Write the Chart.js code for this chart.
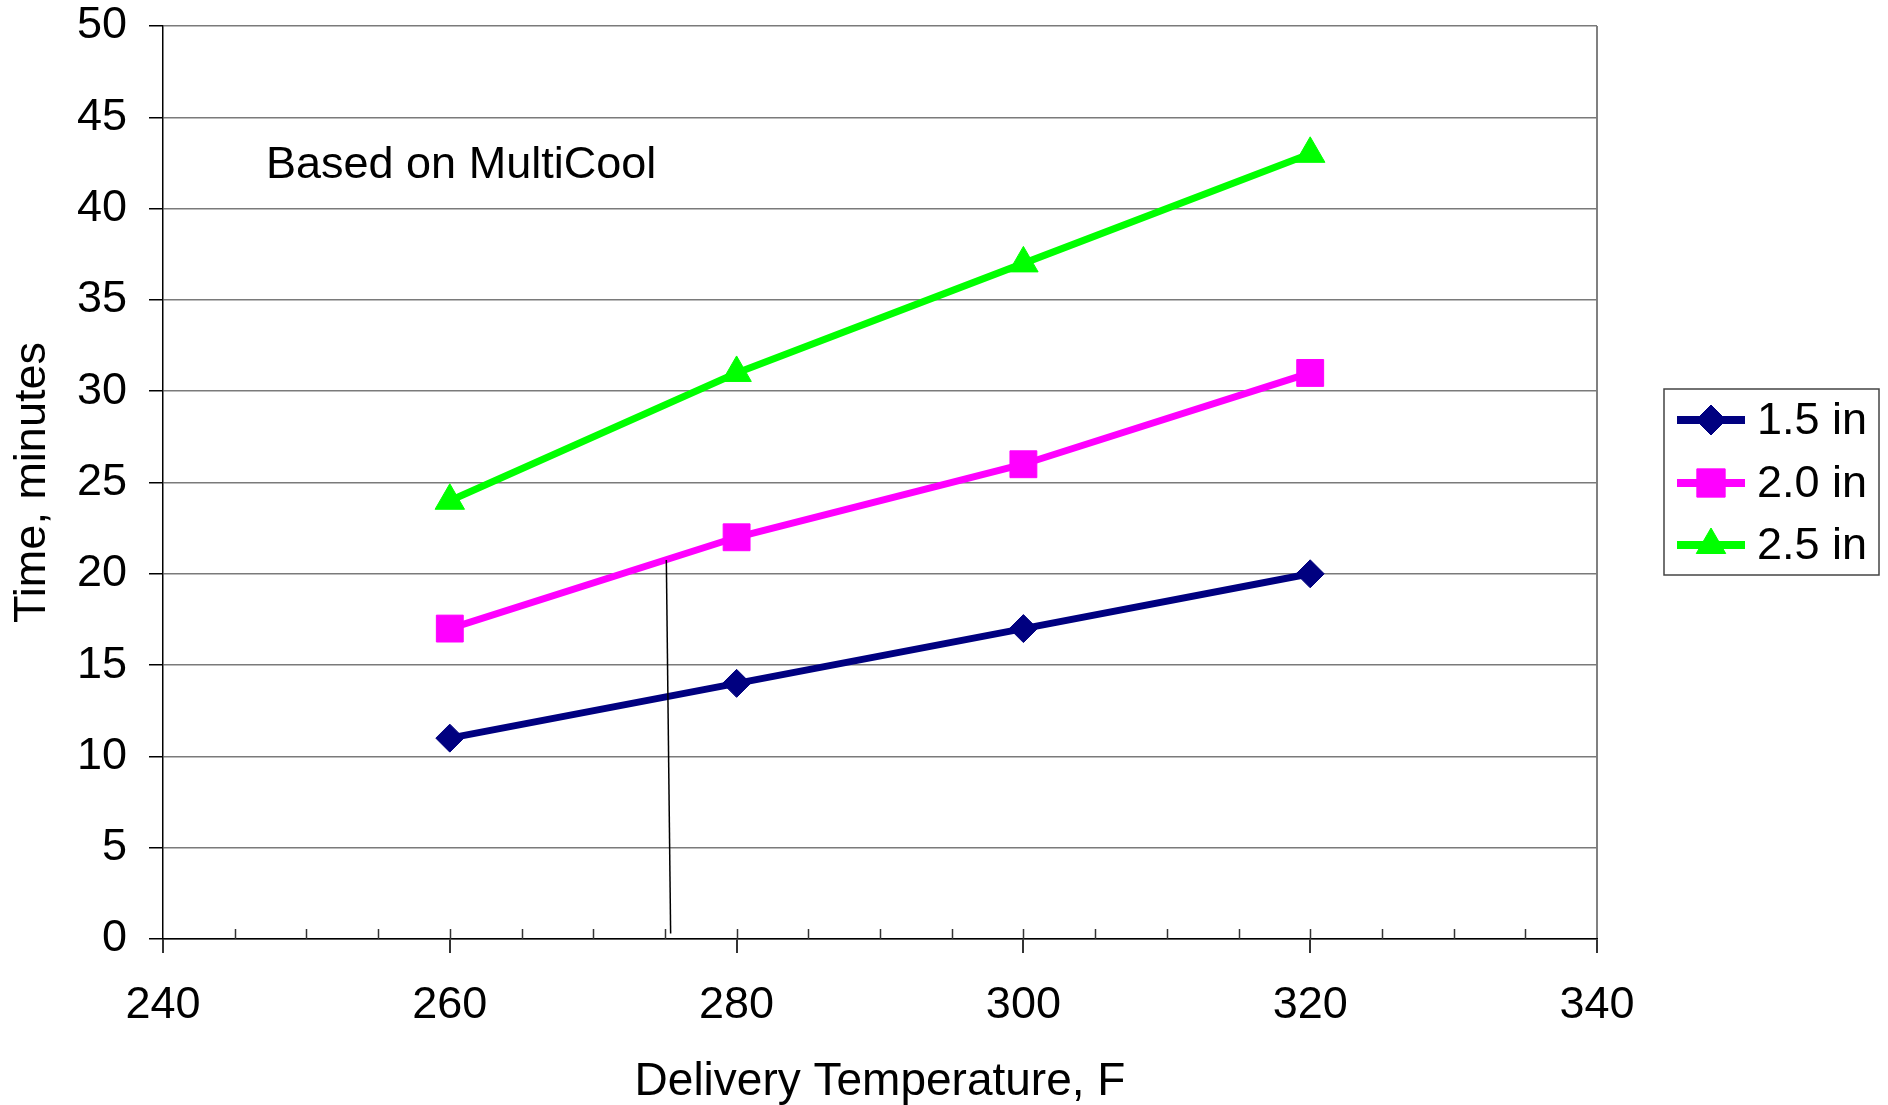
<!DOCTYPE html>
<html>
<head>
<meta charset="utf-8">
<script src="https://cdn.jsdelivr.net/npm/chart.js@4.4.0/dist/chart.umd.min.js"></script>
<style>
  html, body { margin: 0; padding: 0; background: #fff; }
  #wrap { width: 1888px; height: 1105px; }
</style>
</head>
<body>
<div id="wrap"><canvas id="chart"></canvas></div>
<script>
const temps = [260, 280, 300, 320];
const series15 = [11, 14, 17, 20];
const series20 = [17, 22, 26, 31];
const series25 = [24, 31, 37, 43];
const seriesNames = ["1.5 in", "2.0 in", "2.5 in"];
const leaderX = [275.1, 275.4];
const leaderY = [20.75, 0.3];
const xTicks = [240, 260, 280, 300, 320, 340];
const noteText = "Based on MultiCool";

const FONT = "'Liberation Sans', Arial, sans-serif";
const FS = 45;

const toPoints = (xs, ys) => xs.map((x, i) => ({ x, y: ys[i] }));

const lineSets = [
  { label: seriesNames[0], data: toPoints(temps, series15), color: "#000080", style: "rectRot", r: 14, lr: 15 },
  { label: seriesNames[1], data: toPoints(temps, series20), color: "#FF00FF", style: "rect", r: 19, lr: 20 },
  { label: seriesNames[2], data: toPoints(temps, series25), color: "#00FF00", style: "triangle", r: 17, lr: 17 },
];

// inside tick marks on the x axis, plus the note and legend
const extras = {
  id: "extras",
  afterDatasetsDraw(chart) {
    const { ctx, scales: { x }, chartArea } = chart;
    ctx.save();
    ctx.strokeStyle = "#333";
    ctx.lineWidth = 1.5;
    for (let v = 245; v < 340; v += 5) {
      const px = Math.round(x.getPixelForValue(v)) + 0.5;
      ctx.beginPath();
      ctx.moveTo(px, chartArea.bottom);
      ctx.lineTo(px, chartArea.bottom - 10);
      ctx.stroke();
    }
    ctx.restore();
  },
  afterDraw(chart) {
    const { ctx } = chart;
    ctx.save();
    ctx.fillStyle = "#000";
    ctx.font = `${FS}px ${FONT}`;
    ctx.textBaseline = "alphabetic";
    ctx.fillText(noteText, 266, 178);

    // legend
    ctx.strokeStyle = "#444";
    ctx.lineWidth = 1.5;
    ctx.fillStyle = "#fff";
    ctx.fillRect(1664, 389, 215, 186);
    ctx.strokeRect(1664, 389, 215, 186);
    const rows = [420, 483, 545];
    lineSets.forEach((s, i) => {
      const y = rows[i];
      ctx.strokeStyle = s.color;
      ctx.lineWidth = 8;
      ctx.beginPath();
      ctx.moveTo(1677, y);
      ctx.lineTo(1745, y);
      ctx.stroke();
      ctx.fillStyle = s.color;
      ctx.strokeStyle = s.color;
      ctx.lineWidth = 1;
      Chart.helpers.drawPoint(ctx, { pointStyle: s.style, radius: s.lr, rotation: 0, borderWidth: 1 }, 1711, y);
      ctx.fillStyle = "#000";
      ctx.font = `${FS}px ${FONT}`;
      ctx.textBaseline = "middle";
      ctx.fillText(s.label, 1757, y + 2);
    });
    ctx.restore();
  },
};

const datasets = [
  {
    label: "leader",
    data: toPoints(leaderX, leaderY),
    showLine: true,
    borderColor: "#000",
    borderWidth: 1.5,
    pointRadius: 0,
    fill: false,
  },
  ...lineSets.map((s) => ({
    label: s.label,
    data: s.data,
    showLine: true,
    borderColor: s.color,
    backgroundColor: s.color,
    borderWidth: 7,
    pointStyle: s.style,
    pointRadius: s.r,
    pointHoverRadius: s.r,
    pointBorderWidth: 1,
    pointBorderColor: s.color,
    pointBackgroundColor: s.color,
    fill: false,
  })),
];

new Chart(document.getElementById("chart"), {
  type: "scatter",
  data: { datasets },
  options: {
    responsive: true,
    maintainAspectRatio: false,
    animation: false,
    devicePixelRatio: 1,
    layout: { padding: { top: 26, right: 291, left: 0, bottom: 0 } },
    plugins: {
      legend: { display: false },
      tooltip: { enabled: false },
    },
    scales: {
      x: {
        type: "linear",
        min: 240,
        max: 340,
        afterBuildTicks: (scale) => { scale.ticks = xTicks.map((v) => ({ value: v })); },
        afterFit: (scale) => { scale.height = 166; },
        ticks: {
          color: "#000",
          font: { family: FONT, size: FS },
          padding: 26,
          maxRotation: 0,
        },
        grid: {
          color: (c) => (c.tick && c.tick.value === 340 ? "#808080" : "rgba(0,0,0,0)"),
          lineWidth: 2,
          tickColor: "#333",
          tickLength: 14,
        },
        border: { display: true, color: "#000", width: 1.5 },
        title: {
          display: true,
          text: "Delivery Temperature, F",
          color: "#000",
          font: { family: FONT, size: 46, lineHeight: 1 },
          padding: { top: 0, bottom: 0 },
        },
      },
      y: {
        type: "linear",
        min: 0,
        max: 50,
        afterFit: (scale) => {
          scale.width = 163;
          scale.paddingTop = 0;
          scale.paddingBottom = 0;
        },
        ticks: {
          stepSize: 5,
          color: "#000",
          font: { family: FONT, size: FS },
          padding: 22,
        },
        grid: {
          color: "#7a7a7a",
          lineWidth: 1.5,
          tickColor: "#000",
          tickLength: 14,
        },
        border: { display: true, color: "#000", width: 1.5 },
        title: {
          display: true,
          text: "Time, minutes",
          color: "#000",
          font: { family: FONT, size: FS },
          padding: { top: 6, bottom: 0 },
        },
      },
    },
  },
  plugins: [extras],
});
</script>
</body>
</html>
